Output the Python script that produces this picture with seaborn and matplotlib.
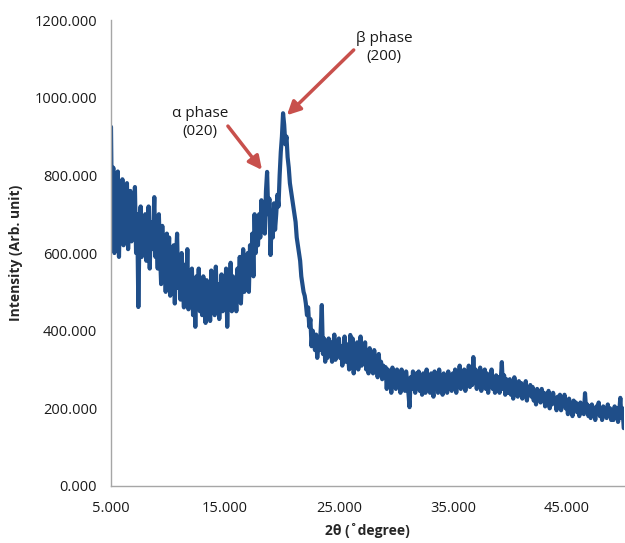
import numpy as np
import pandas as pd
import matplotlib
matplotlib.use("Agg")
import matplotlib.pyplot as plt
import seaborn as sns

# 2-theta grid: 5.0 .. 50.0 in 0.1 steps
theta_start = 5.0
theta_step = 0.1

# intensity values, one row per degree (5.x, 6.x, ...)
intensity = [
    925, 640, 820, 600, 760, 680, 810, 590, 720, 650,   # 5
    790, 620, 740, 660, 780, 610, 700, 760, 630, 720,   # 6
    680, 770, 600, 700, 461, 650, 720, 590, 690, 610,   # 7
    700, 580, 650, 720, 560, 680, 610, 660, 744, 590,   # 8
    640, 560, 700, 600, 520, 670, 580, 630, 500, 650,   # 9
    560, 640, 490, 600, 530, 620, 470, 580, 650, 510,   # 10
    560, 480, 600, 520, 460, 570, 500, 610, 455, 540,   # 11
    500, 560, 440, 520, 410, 540, 470, 560, 450, 510,   # 12
    440, 540, 480, 420, 530, 460, 510, 425, 555, 470,   # 13
    500, 440, 565, 470, 520, 430, 490, 545, 450, 510,   # 14
    470, 560, 410, 530, 480, 575, 450, 540, 490, 520,   # 15
    450, 560, 500, 590, 470, 540, 610, 500, 570, 520,   # 16
    600, 500, 620, 560, 650, 540, 700, 600, 660, 620,   # 17
    700, 640, 736, 670, 720, 650, 760, 809, 700, 740,   # 18
    595, 680, 640, 728, 660, 700, 750, 720, 800, 860,   # 19
    900, 960, 930, 880, 900, 847, 820, 780, 760, 740,   # 20
    720, 700, 680, 640, 620, 600, 580, 540, 520, 500,   # 21
    490, 470, 440, 460, 410, 430, 360, 400, 380, 350,   # 22
    390, 330, 370, 350, 400, 466, 340, 380, 320, 360,   # 23
    330, 380, 340, 370, 320, 360, 390, 325, 370, 340,   # 24
    380, 330, 360, 310, 350, 385, 320, 365, 340, 300,   # 25
    389, 340, 380, 290, 360, 320, 370, 300, 350, 385,   # 26
    310, 360, 330, 370, 300, 345, 290, 355, 320, 340,   # 27
    290, 350, 300, 330, 280, 340, 290, 320, 275, 310,   # 28
    280, 306, 250, 300, 260, 290, 240, 305, 270, 285,   # 29
    250, 300, 265, 290, 240, 300, 260, 285, 245, 295,   # 30
    265, 240, 203, 280, 250, 295, 260, 240, 290, 255,   # 31
    295, 245, 280, 235, 290, 260, 240, 300, 250, 280,   # 32
    240, 290, 255, 230, 295, 260, 280, 240, 300, 255,   # 33
    285, 235, 290, 250, 275, 240, 295, 260, 285, 245,   # 34
    290, 250, 300, 240, 285, 265, 310, 250, 290, 260,   # 35
    300, 245, 290, 270, 310, 255, 295, 260, 332, 270,   # 36
    300, 250, 290, 265, 305, 245, 285, 270, 300, 250,   # 37
    290, 240, 280, 260, 300, 250, 275, 240, 285, 255,   # 38
    280, 240, 270, 319, 250, 285, 235, 275, 255, 240,   # 39
    275, 235, 265, 225, 280, 240, 260, 230, 270, 245,   # 40
    265, 225, 255, 240, 270, 220, 250, 235, 260, 230,   # 41
    255, 220, 245, 210, 250, 230, 240, 215, 250, 225,   # 42
    240, 205, 235, 215, 245, 200, 230, 210, 240, 220,   # 43
    225, 195, 230, 205, 235, 195, 220, 210, 235, 200,   # 44
    215, 185, 225, 195, 210, 180, 220, 200, 215, 190,   # 45
    210, 180, 215, 190, 205, 185, 239, 195, 210, 180,   # 46
    205, 175, 210, 185, 200, 170, 205, 190, 215, 180,   # 47
    200, 170, 205, 180, 195, 175, 210, 185, 200, 170,   # 48
    195, 170, 205, 180, 200, 165, 190, 227, 175, 200,   # 49
    149,                                                # 50
]

x_ticks = [5, 15, 25, 35, 45]
x_tick_labels = ["5.000", "15.000", "25.000", "35.000", "45.000"]
y_ticks = [0, 200, 400, 600, 800, 1000, 1200]
y_tick_labels = ["0.000", "200.000", "400.000", "600.000", "800.000", "1000.000", "1200.000"]

x_label = "2θ (˚degree)"
y_label = "Intensity (Arb. unit)"
alpha_text = "α phase\n(020)"
beta_text = "β phase\n(200)"

theta = np.round(theta_start + theta_step * np.arange(len(intensity)), 1)
df = pd.DataFrame({"theta": theta, "intensity": intensity})

sns.set_style("white")
plt.rcParams["font.family"] = ["Open Sans", "DejaVu Sans"]

fig = plt.figure(figsize=(6.25, 5.43), dpi=100)
ax = fig.add_axes([0.1776, 0.105, 0.8204, 0.858])

sns.lineplot(data=df, x="theta", y="intensity", ax=ax, color="#1f4e89",
             linewidth=3.0, estimator=None, sort=False)

ax.set_xlim(5, 50)
ax.set_ylim(0, 1200)
ax.set_xticks(x_ticks)
ax.set_xticklabels(x_tick_labels)
ax.set_yticks(y_ticks)
ax.set_yticklabels(y_tick_labels)
ax.tick_params(axis="both", length=0, labelsize=10.5, colors="#1a1a1a")
ax.tick_params(axis="y", pad=10)
ax.tick_params(axis="x", pad=11)

for s in ["top", "right"]:
    ax.spines[s].set_visible(False)
for s in ["left", "bottom"]:
    ax.spines[s].set_color("#a6a6a6")
    ax.spines[s].set_linewidth(1.0)

ax.set_xlabel(x_label, fontsize=10, fontweight="bold", labelpad=5)
ax.set_ylabel(y_label, fontsize=10, fontweight="bold", labelpad=8)

arrow_color = "#c8504c"
ax.text(12.8, 936, alpha_text, ha="center", va="center", fontsize=11,
        linespacing=1.3, color="#1a1a1a")
ax.text(28.95, 1130, beta_text, ha="center", va="center", fontsize=11,
        linespacing=1.3, color="#1a1a1a")
ax.annotate("", xy=(18.25, 814), xytext=(15.26, 927),
            arrowprops=dict(arrowstyle="-|>,head_length=0.8,head_width=0.4",
                            color=arrow_color, lw=2.5, shrinkA=0, shrinkB=0))
ax.annotate("", xy=(20.44, 955), xytext=(26.3, 1123),
            arrowprops=dict(arrowstyle="-|>,head_length=0.8,head_width=0.4",
                            color=arrow_color, lw=2.5, shrinkA=0, shrinkB=0))

fig.savefig("out.png", dpi=100)
